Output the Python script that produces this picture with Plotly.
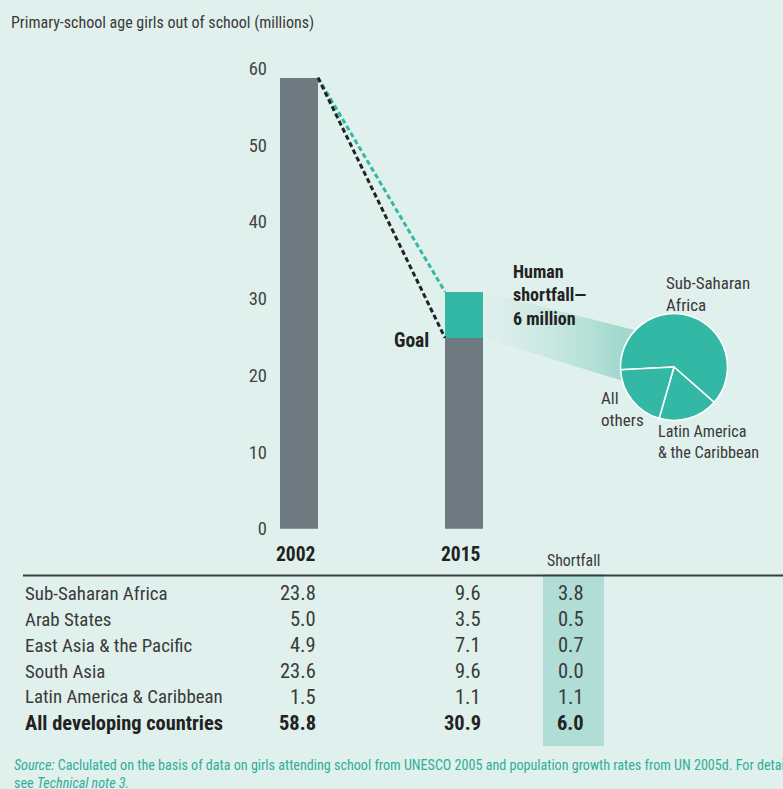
import math
import plotly.graph_objects as go

W, H = 783, 789

# ---------------- data ----------------
years = ["2002", "2015"]
total_out = [58.8, 30.9]          # primary-school age girls out of school (millions)
shortfall_total = 6.0             # human shortfall against the 2015 goal
y_ticks = [0, 10, 20, 30, 40, 50, 60]

regions = ["Sub-Saharan Africa", "Arab States", "East Asia & the Pacific",
           "South Asia", "Latin America & Caribbean", "All developing countries"]
out_2002 = [23.8, 5.0, 4.9, 23.6, 1.5, 58.8]
out_2015 = [9.6, 3.5, 7.1, 9.6, 1.1, 30.9]
shortfall = [3.8, 0.5, 0.7, 0.0, 1.1, 6.0]

pie_labels = ["Sub-Saharan Africa", "Latin America & the Caribbean", "All others"]
pie_values = [shortfall[0], shortfall[4], shortfall[1] + shortfall[2] + shortfall[3]]

goal_2015 = total_out[1] - shortfall_total

# ---------------- style ----------------
BG = "#e0f0ec"
GRAY = "#6f7a80"
TEAL = "#33b8a5"
HILITE = "#b0ddd5"
TEXT = "#3a3a3a"
DARK = "#222222"
FONT = "Liberation Sans Narrow, Arial Narrow, Roboto Condensed, Liberation Sans, sans-serif"

# layout geometry (pixels)
Y0_PX, YTOP_PX = 528.8, 68.5          # y = 0 and y = 60
BAR_CX = [299, 464]                   # bar centres
BAR_W_PX = 38
UNIT_X = BAR_CX[1] - BAR_CX[0]
PIE_C = (674, 367)
PIE_R = 53.5
ROW_Y0, ROW_DY = 593.3, 25.9


def px(x):
    return x / W


def py(y):
    return 1 - y / H


def to_dx(x_px):
    return (x_px - BAR_CX[0]) / UNIT_X


def to_dy(y_px):
    return (Y0_PX - y_px) / ((Y0_PX - YTOP_PX) / 60)


bw = BAR_W_PX / UNIT_X
xs = [0, 1]

fig = go.Figure()

# connector from the shortfall segment to the pie
a_up, a_lo = math.radians(136.5), math.radians(195)
pu = (PIE_C[0] + PIE_R * math.cos(a_up), PIE_C[1] - PIE_R * math.sin(a_up))
pl = (PIE_C[0] + PIE_R * math.cos(a_lo), PIE_C[1] - PIE_R * math.sin(a_lo))
fx = [xs[1] + bw / 2, to_dx(pu[0]), to_dx(pl[0]), xs[1] + bw / 2]
fy = [total_out[1], to_dy(pu[1]), to_dy(pl[1]), goal_2015]
fig.add_trace(go.Scatter(
    x=fx, y=fy, mode="lines", fill="toself", line=dict(width=0),
    fillgradient=dict(type="horizontal",
                      colorscale=[[0, "rgba(190,228,219,0.0)"], [1, "rgba(160,216,205,1)"]],
                      start=fx[0], stop=fx[2]),
    hoverinfo="skip", showlegend=False))

# bars
fig.add_trace(go.Bar(x=xs, y=[total_out[0], goal_2015], width=bw,
                     marker=dict(color=GRAY, line=dict(width=0)),
                     hoverinfo="skip", showlegend=False))
fig.add_trace(go.Bar(x=[xs[1]], y=[shortfall_total], width=bw,
                     marker=dict(color=TEAL, line=dict(width=0)),
                     hoverinfo="skip", showlegend=False))

# dashed trajectories
x_start = xs[0] + bw / 2
x_end = xs[1] - bw / 2
fig.add_trace(go.Scatter(x=[x_start, x_end], y=[total_out[0], total_out[1]], mode="lines",
                         line=dict(color=TEAL, width=3, dash="5px,3px"),
                         hoverinfo="skip", showlegend=False))
fig.add_trace(go.Scatter(x=[x_start, x_end], y=[total_out[0], goal_2015], mode="lines",
                         line=dict(color="#222222", width=3, dash="5px,3px"),
                         hoverinfo="skip", showlegend=False))

# pie of the shortfall
fig.add_trace(go.Pie(
    values=pie_values, labels=pie_labels, sort=False, direction="clockwise",
    rotation=267, textinfo="none", hoverinfo="skip", showlegend=False,
    marker=dict(colors=[TEAL] * 3, line=dict(color="white", width=1.6)),
    domain=dict(x=[px(PIE_C[0] - PIE_R), px(PIE_C[0] + PIE_R)],
                y=[py(PIE_C[1] + PIE_R), py(PIE_C[1] - PIE_R)])))

ann = []


def add_text(text, x, y, size, color=TEXT, xanchor="left", yanchor="middle",
             xref="paper", align="left", bold=False):
    ann.append(dict(text=f"<b>{text}</b>" if bold else text, x=x, y=y, xref=xref, yref="paper",
                    xanchor=xanchor, yanchor=yanchor, align=align, showarrow=False,
                    font=dict(family=FONT, size=size, color=color)))


add_text("Primary-school age girls out of school (millions)", px(9), py(23), 16)

# chart labels
add_text("Goal", px(431), py(340), 19.5, DARK, xanchor="right", bold=True)
add_text("Human<br>shortfall—<br>6 million", px(511), py(295), 18, DARK, bold=True)
add_text("Sub-Saharan<br>Africa", px(664), py(294), 17)
add_text("All<br>others", px(599), py(409), 17)
add_text("Latin America<br>& the Caribbean", px(656), py(442), 16.2)

# column headers
for i, yr in enumerate(years):
    add_text(yr, xs[i] + bw / 2, py(554), 19.5, DARK, xanchor="right", xref="x", bold=True)
add_text("Shortfall", px(573), py(560), 15.8, xanchor="center")

# table rows
last = len(regions) - 1
for r, name in enumerate(regions):
    yy = py(ROW_Y0 + r * ROW_DY)
    b = r == last
    col = DARK if b else TEXT
    add_text(name, px(23), yy, 20.4 if b else 18.9, col, bold=b)
    add_text(f"{out_2002[r]:.1f}", xs[0] + bw / 2, yy, 20.5, col, xanchor="right", xref="x", bold=b)
    add_text(f"{out_2015[r]:.1f}", xs[1] + bw / 2, yy, 20.5, col, xanchor="right", xref="x", bold=b)
    add_text(f"{shortfall[r]:.1f}", px(570.5), yy, 20.5, col, xanchor="center", bold=b)

# source note
add_text("<i>Source:</i> Caclulated on the basis of data on girls attending school from UNESCO 2005 "
         "and population growth rates from UN 2005d. For details<br>see <i>Technical note 3.</i>",
         px(12), py(774), 14.1, "#2fae99")

shapes = [
    dict(type="rect", xref="paper", yref="paper", x0=px(543), x1=px(604), y0=py(746), y1=py(574),
         fillcolor=HILITE, line=dict(width=0), layer="below"),
    dict(type="line", xref="paper", yref="paper", x0=px(23), x1=1, y0=py(575.5), y1=py(575.5),
         line=dict(color="#3c3c3c", width=2)),
]

fig.update_layout(
    template="none",
    width=W, height=H, autosize=False,
    margin=dict(l=0, r=0, t=0, b=0, pad=0, autoexpand=False),
    paper_bgcolor=BG, plot_bgcolor="rgba(0,0,0,0)",
    barmode="stack", bargap=0, showlegend=False,
    xaxis=dict(domain=[0, 1], range=[to_dx(0), to_dx(W)], visible=False,
               fixedrange=True, automargin=False),
    yaxis=dict(domain=[py(Y0_PX), py(YTOP_PX)], range=[0, 60], tickvals=y_ticks,
               showgrid=False, zeroline=False, showline=False, ticks="",
               anchor="free", position=px(267), automargin=False,
               tickfont=dict(family=FONT, size=18.5, color="#444444"), fixedrange=True),
    annotations=ann, shapes=shapes,
)

fig.write_html("out.html")
